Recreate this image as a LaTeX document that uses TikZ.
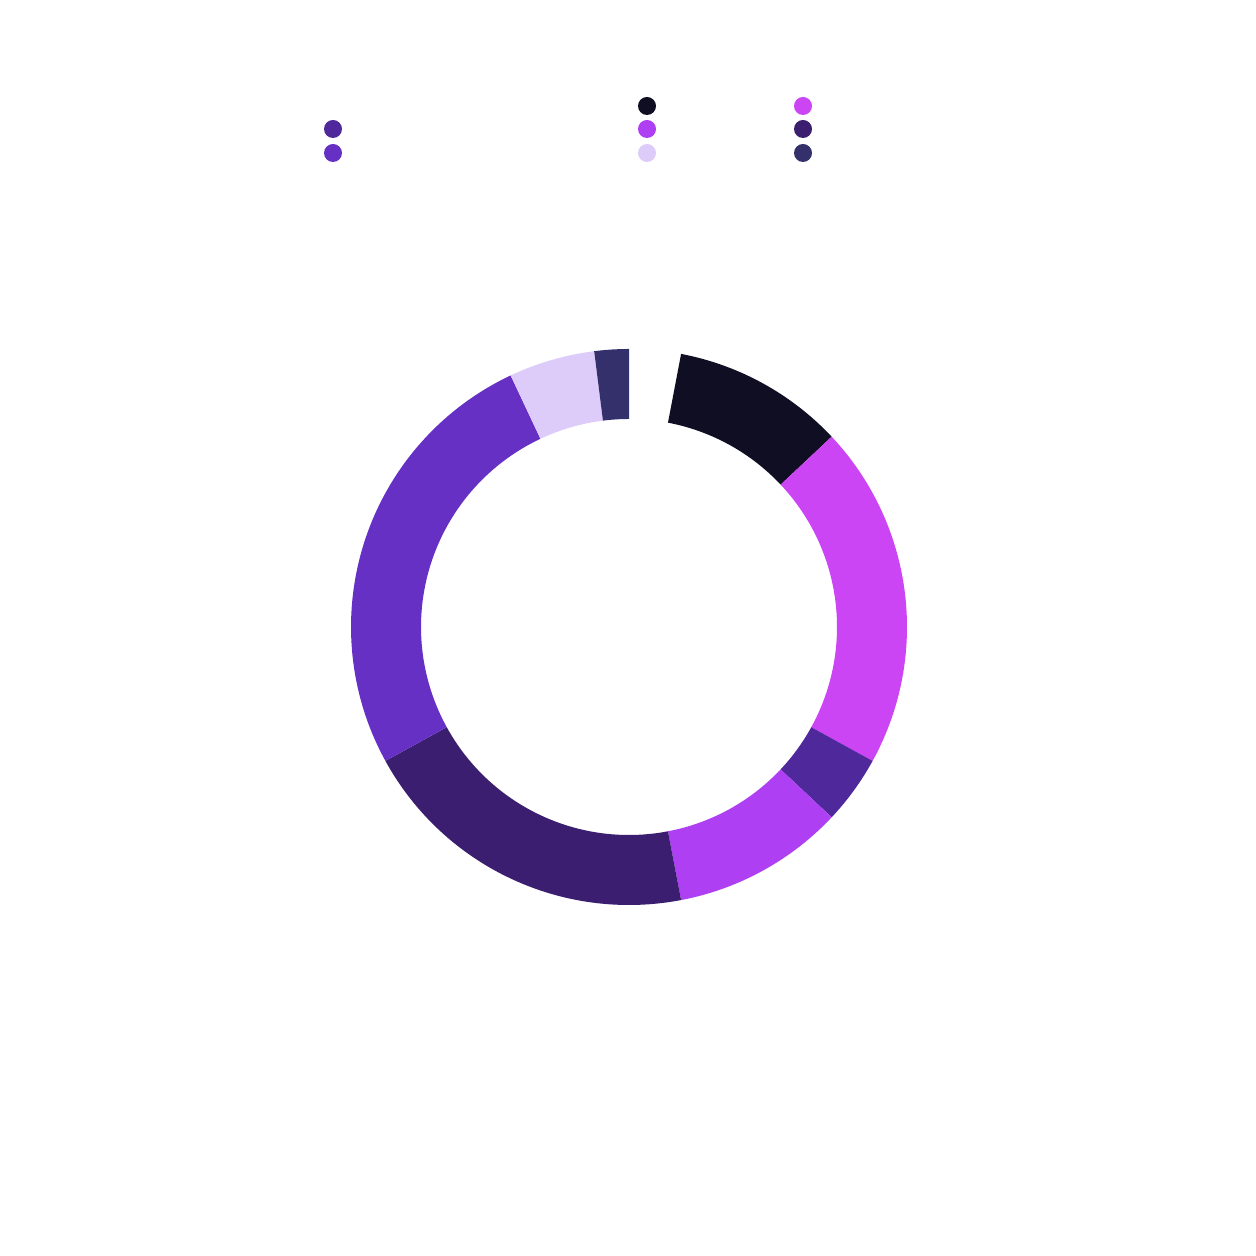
\documentclass[tikz,border=0pt]{standalone}
\definecolor{cBlack}{HTML}{100E22}
\definecolor{cMagenta}{HTML}{CB45F4}
\definecolor{cIndigo}{HTML}{4F289C}
\definecolor{cViolet}{HTML}{AE3FF2}
\definecolor{cDeep}{HTML}{3B1E70}
\definecolor{cPurple}{HTML}{6730C5}
\definecolor{cLav}{HTML}{DDCCFA}
\definecolor{cNavy}{HTML}{33306B}
\tikzset{
  legdot/.style={circle, inner sep=0pt, minimum size=9pt, draw=none},
}
\newcommand{\donutseg}[3]{%
  \fill[#3] (#1:208) -- (#1:278) arc[start angle=#1, end angle=#2, radius=278]
    -- (#2:208) arc[start angle=#2, end angle=#1, radius=208] -- cycle;}
\begin{document}
\begin{tikzpicture}[x=0.5pt,y=0.5pt]
\useasboundingbox[fill=white] (0,0) rectangle (1256,1256);
% legend
\node[legdot, fill=cIndigo] (l1) at (333,1127) {};
\node[legdot, fill=cPurple] (l2) at (333,1103) {};
\node[legdot, fill=cBlack] (l3) at (647,1150) {};
\node[legdot, fill=cViolet] (l4) at (647,1127) {};
\node[legdot, fill=cLav] (l5) at (647,1103) {};
\node[legdot, fill=cMagenta] (l6) at (803,1150) {};
\node[legdot, fill=cDeep] (l7) at (803,1127) {};
\node[legdot, fill=cNavy] (l8) at (803,1103) {};
% donut
\begin{scope}[shift={(629,629)}]
\donutseg{79.2}{43.2}{cBlack}
\donutseg{43.2}{-28.8}{cMagenta}
\donutseg{-28.8}{-43.2}{cIndigo}
\donutseg{-43.2}{-79.2}{cViolet}
\donutseg{-79.2}{-151.2}{cDeep}
\donutseg{208.8}{115.2}{cPurple}
\donutseg{115.2}{97.2}{cLav}
\donutseg{97.2}{90}{cNavy}
\end{scope}
\end{tikzpicture}
\end{document}
